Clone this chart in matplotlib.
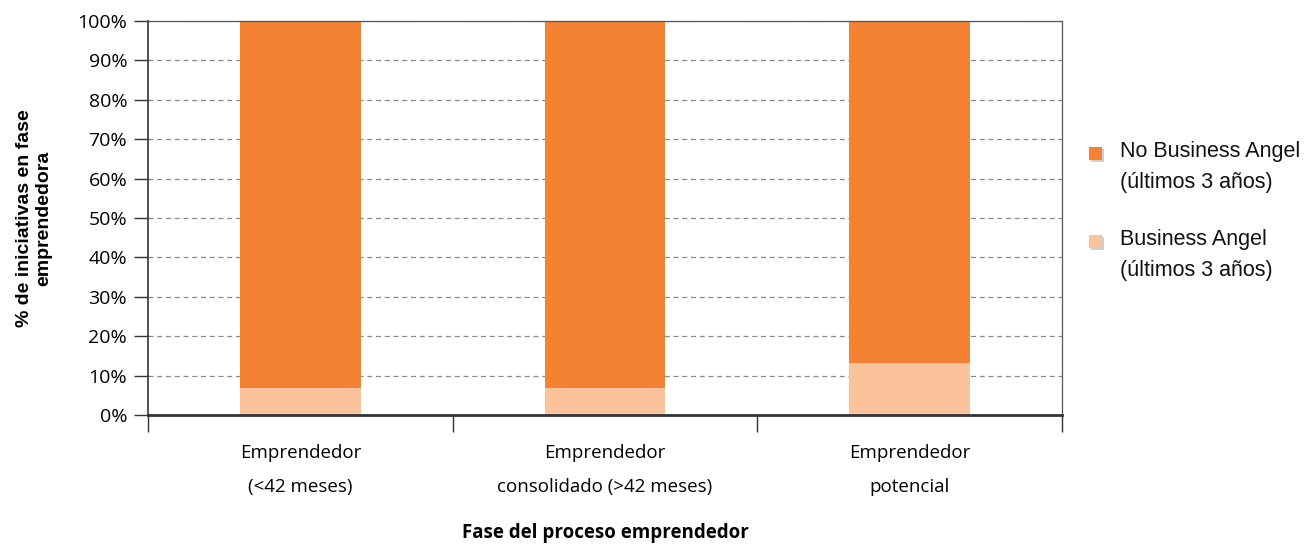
import numpy as np
import matplotlib.pyplot as plt
from matplotlib.patches import Rectangle
from matplotlib.ticker import MultipleLocator, FixedLocator, PercentFormatter

# data
categories = ["Emprendedor\n(<42 meses)",
              "Emprendedor\nconsolidado (>42 meses)",
              "Emprendedor\npotencial"]
business_angel = [6.9, 6.9, 13.2]
no_business_angel = [100 - v for v in business_angel]
series_labels = ["No Business Angel\n(últimos 3 años)",
                 "Business Angel\n(últimos 3 años)"]

c_dark = "#F58232"
c_light = "#FBC39B"

W, H = 1312, 546
fig = plt.figure(figsize=(W / 100, H / 100), dpi=100)
ax = fig.add_axes([148 / W, 1 - 415 / H, 914 / W, 394 / H])

x = np.arange(len(categories))
b1 = ax.bar(x, business_angel, width=0.395, color=c_light, zorder=2)
b2 = ax.bar(x, no_business_angel, bottom=business_angel, width=0.395, color=c_dark, zorder=2)

ax.set_xlim(-0.5, len(categories) - 0.5)
ax.set_ylim(0, 100)
ax.yaxis.set_major_locator(MultipleLocator(10))
ax.yaxis.set_major_formatter(PercentFormatter(decimals=0))
ax.yaxis.grid(True, linestyle=(0, (4, 3)), color="#8a8a8a", linewidth=0.9, zorder=0)

tick_font = "Open Sans"
ax.set_xticks(x)
ax.set_xticklabels(categories, fontfamily=tick_font, fontsize=13.5, linespacing=2.1)
ax.xaxis.set_minor_locator(FixedLocator(np.arange(-0.5, len(categories), 1.0)))
ax.tick_params(axis="x", which="major", length=0, pad=21)
ax.tick_params(axis="x", which="minor", length=12, width=1, color="#333333")
ax.tick_params(axis="y", length=10, width=1, color="#333333", pad=5)
for lab in ax.get_yticklabels():
    lab.set_fontfamily(tick_font)
    lab.set_fontsize(14)

for side in ["left", "bottom"]:
    ax.spines[side].set_color("#333333")
    ax.spines[side].set_linewidth(1.2)
for side in ["top", "right"]:
    ax.spines[side].set_color("#555555")
    ax.spines[side].set_linewidth(0.9)
ax.spines["bottom"].set_linewidth(2)

ax.set_xlabel("Fase del proceso emprendedor", fontfamily=tick_font,
              fontweight="bold", fontsize=13.5, labelpad=20)
ax.set_ylabel("% de iniciativas en fase\nemprendedora", fontfamily="Liberation Sans",
              fontweight="bold", fontsize=14, labelpad=18, linespacing=1.2)

# legend drawn by hand so the swatch sits next to the first line
legend_items = [(series_labels[0], c_dark, 153), (series_labels[1], c_light, 241)]
for label, color, ypix in legend_items:
    fig.patches.append(Rectangle((1091 / W, 1 - (ypix + 9) / H), 13 / W, 13 / H,
                                 transform=fig.transFigure, facecolor="#b0b0b0",
                                 edgecolor="none", alpha=0.6))
    fig.patches.append(Rectangle((1089 / W, 1 - (ypix + 7) / H), 13 / W, 13 / H,
                                 transform=fig.transFigure, facecolor=color,
                                 edgecolor="none"))
    fig.text(1120 / W, 1 - (ypix - 12) / H, label, fontfamily="Liberation Sans",
             fontsize=15.5, va="top", ha="left", linespacing=1.6, color="#111111")

fig.savefig("out.png", dpi=100)
